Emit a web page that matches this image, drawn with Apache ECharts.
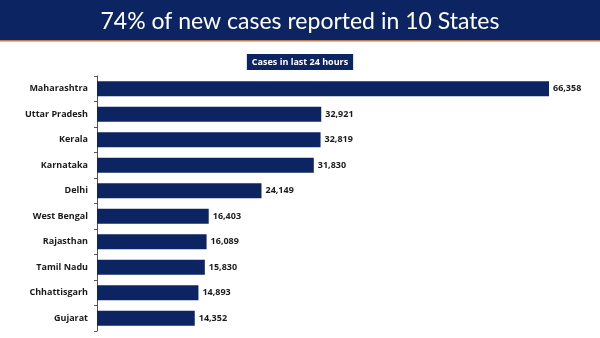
<!DOCTYPE html>
<html><head><meta charset="utf-8">
<script src="https://cdn.jsdelivr.net/npm/echarts@6/dist/echarts.min.js"></script>
<style>html,body{margin:0;padding:0;background:#fff}#c{width:600px;height:338px}</style>
</head><body><div id="c"></div>
<script>
const states = ['Maharashtra','Uttar Pradesh','Kerala','Karnataka','Delhi','West Bengal','Rajasthan','Tamil Nadu','Chhattisgarh','Gujarat'];
const cases = [66358,32921,32819,31830,24149,16403,16089,15830,14893,14352];
const titleText = '74% of new cases reported in 10 States';
const subtitleText = 'Cases in last 24 hours';

const chart = echarts.init(document.getElementById('c'), null, {renderer:'canvas'});
chart.setOption({
  animation:false,
  backgroundColor:'#fff',
  graphic:[
    {type:'rect', left:0, top:0, shape:{width:600,height:40}, style:{fill:'#0c2461'}, z:0},
    {type:'rect', left:0, top:40, shape:{width:600,height:1.5}, style:{fill:'#c8784a'}, z:0}
  ],
  title:[
    {text:titleText, left:'center', top:5, textStyle:{color:'#fff', fontFamily:'Lato', fontWeight:'normal', fontSize:23}},
    {text:subtitleText, left:'center', top:54, padding:[3,5,3,5], backgroundColor:'#0c2461',
     textStyle:{color:'#fff', fontFamily:'Open Sans', fontWeight:'bold', fontSize:9, lineHeight:10}}
  ],
  grid:{left:97, right:51, top:76, bottom:7, containLabel:false},
  xAxis:{type:'value', min:0, max:66358, show:false},
  yAxis:{type:'category', data:states, inverse:true,
    axisLine:{show:true, lineStyle:{color:'#555', width:1}},
    axisTick:{show:true, length:3, lineStyle:{color:'#555'}},
    axisLabel:{margin:9, color:'#1a1a1a', fontFamily:'Open Sans', fontWeight:'bold', fontSize:9}
  },
  series:[{type:'bar', data:cases, barCategoryGap:'42%', itemStyle:{color:'#0c2461'},
    label:{show:true, position:'right', distance:4, color:'#1a1a1a', fontFamily:'Open Sans', fontWeight:'bold', fontSize:9,
      formatter:p=>p.value.toLocaleString('en-US')}}]
});
</script></body></html>
